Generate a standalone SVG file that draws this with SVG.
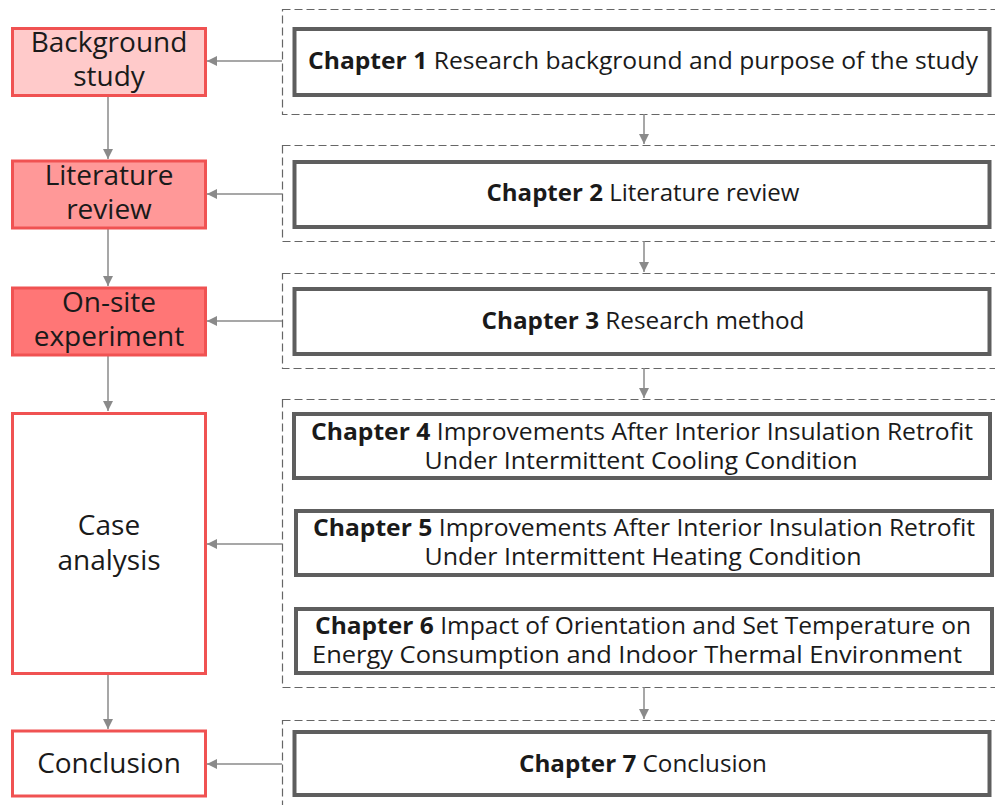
<svg xmlns="http://www.w3.org/2000/svg" width="995" height="805" viewBox="0 0 995 805">
<defs>
<marker id="ah" viewBox="0 0 10 10" refX="10" refY="5" markerWidth="10" markerHeight="10" markerUnits="userSpaceOnUse" orient="auto">
<path d="M0,0 L10,5 L0,10 Z" fill="#8a8a8a"/>
</marker>
<style>
.lb{stroke:#f05252;stroke-width:3}
.ch{fill:#fff;stroke:#5e5e5e;stroke-width:4}
.grp{fill:none;stroke:#666;stroke-width:1.2;stroke-dasharray:8 4}
.lt{font-family:"Open Sans","Noto Sans",sans-serif;font-size:28px;fill:#1a1a1a;text-anchor:middle}
.ct{font-family:"Open Sans","Noto Sans",sans-serif;font-size:23px;fill:#1a1a1a;text-anchor:middle}
.b{font-weight:bold}
.con{fill:none;stroke:#8a8a8a;stroke-width:1.5;marker-end:url(#ah)}
</style>
</defs>
<rect width="995" height="805" fill="#fff"/>
<g id="groups">
<rect class="grp" x="282.5" y="9.5" width="730" height="105"/>
<rect class="grp" x="282.5" y="145.5" width="730" height="96"/>
<rect class="grp" x="282.5" y="273.5" width="730" height="95"/>
<rect class="grp" x="282.5" y="399.5" width="730" height="288"/>
<rect class="grp" x="282.5" y="720.5" width="730" height="100"/>
</g>
<g id="connectors">
<path class="con" d="M108,97 V159"/>
<path class="con" d="M108,229 V286"/>
<path class="con" d="M108,356 V411"/>
<path class="con" d="M108,675 V729"/>
<path class="con" d="M282,61 H207"/>
<path class="con" d="M282,194 H207"/>
<path class="con" d="M282,321 H207"/>
<path class="con" d="M282,544 H207"/>
<path class="con" d="M282,764 H207"/>
<path class="con" d="M644,114 V144"/>
<path class="con" d="M644,241 V272"/>
<path class="con" d="M644,368 V398"/>
<path class="con" d="M644,687 V719"/>
</g>
<g id="background-study">
<rect class="lb" x="12.5" y="28.5" width="193" height="67" fill="#ffcaca"/>
<text class="lt" x="109" y="52">Background</text>
<text class="lt" x="109" y="86">study</text>
</g>
<g id="literature-review">
<rect class="lb" x="12.5" y="161" width="193" height="67" fill="#ff9898"/>
<text class="lt" x="109" y="185">Literature</text>
<text class="lt" x="109" y="219">review</text>
</g>
<g id="on-site-experiment">
<rect class="lb" x="12.5" y="288" width="193" height="67" fill="#ff7676"/>
<text class="lt" x="109" y="312">On-site</text>
<text class="lt" x="109" y="346">experiment</text>
</g>
<g id="case-analysis">
<rect class="lb" x="12.5" y="413.5" width="193" height="260" fill="#fff"/>
<text class="lt" x="109" y="535">Case</text>
<text class="lt" x="109" y="570">analysis</text>
</g>
<g id="conclusion">
<rect class="lb" x="12.5" y="731" width="193" height="65" fill="#fff"/>
<text class="lt" x="109" y="773">Conclusion</text>
</g>
<g id="chapter1">
<rect class="ch" x="294.5" y="29" width="695" height="66"/>
<text class="ct" x="643" y="69" textLength="670" lengthAdjust="spacingAndGlyphs"><tspan class="b">Chapter 1</tspan> Research background and purpose of the study</text>
</g>
<g id="chapter2">
<rect class="ch" x="294.5" y="162" width="695" height="65"/>
<text class="ct" x="643" y="201" textLength="313" lengthAdjust="spacingAndGlyphs"><tspan class="b">Chapter 2</tspan> Literature review</text>
</g>
<g id="chapter3">
<rect class="ch" x="294.5" y="289" width="695" height="65"/>
<text class="ct" x="643" y="329" textLength="323" lengthAdjust="spacingAndGlyphs"><tspan class="b">Chapter 3</tspan> Research method</text>
</g>
<g id="chapter4">
<rect class="ch" x="294" y="414" width="696" height="64"/>
<text class="ct" x="642" y="440" textLength="662" lengthAdjust="spacingAndGlyphs"><tspan class="b">Chapter 4</tspan> Improvements After Interior Insulation Retrofit</text>
<text class="ct" x="641" y="469" textLength="433" lengthAdjust="spacingAndGlyphs">Under Intermittent Cooling Condition</text>
</g>
<g id="chapter5">
<rect class="ch" x="296" y="511" width="696" height="64"/>
<text class="ct" x="644" y="536" textLength="662" lengthAdjust="spacingAndGlyphs"><tspan class="b">Chapter 5</tspan> Improvements After Interior Insulation Retrofit</text>
<text class="ct" x="643" y="565" textLength="437" lengthAdjust="spacingAndGlyphs">Under Intermittent Heating Condition</text>
</g>
<g id="chapter6">
<rect class="ch" x="296" y="609" width="696" height="64"/>
<text class="ct" x="643" y="634" textLength="656" lengthAdjust="spacingAndGlyphs"><tspan class="b">Chapter 6</tspan> Impact of Orientation and Set Temperature on</text>
<text class="ct" x="637" y="663" textLength="650" lengthAdjust="spacingAndGlyphs">Energy Consumption and Indoor Thermal Environment</text>
</g>
<g id="chapter7">
<rect class="ch" x="294.5" y="732" width="695" height="63"/>
<text class="ct" x="643" y="772" textLength="248" lengthAdjust="spacingAndGlyphs"><tspan class="b">Chapter 7</tspan> Conclusion</text>
</g>
</svg>
